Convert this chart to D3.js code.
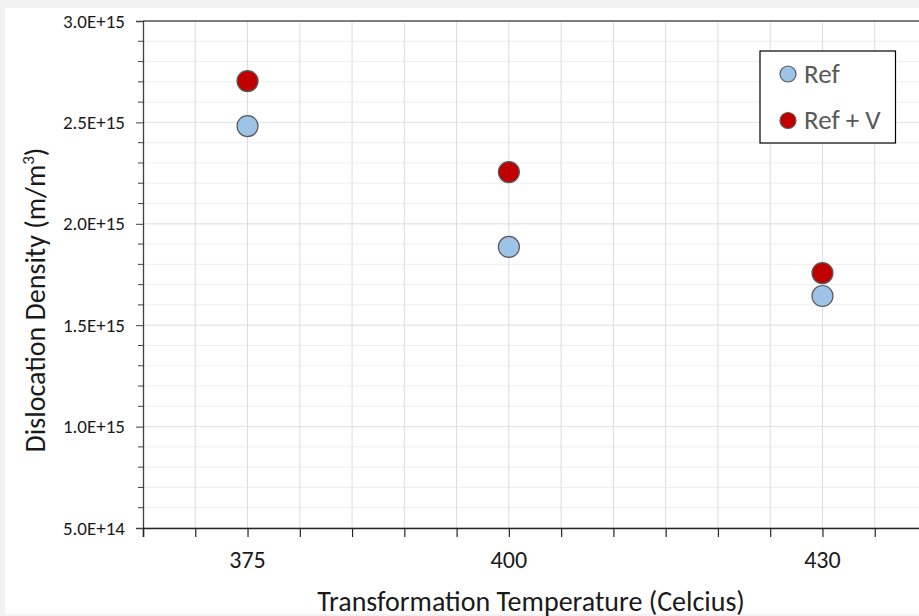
<!DOCTYPE html>
<html>
<head>
<meta charset="utf-8">
<script src="https://cdn.jsdelivr.net/npm/d3@7"></script>
<style>
  html, body { margin: 0; padding: 0; background: #f2f2f2; }
  svg { display: block; }
  text { font-family: Calibri, Carlito, Lato, "Open Sans", sans-serif; }
</style>
</head>
<body>
<svg id="chart" width="919" height="616"></svg>
<script>
// Transformation temperatures (Celcius)
const temperatures = [375, 400, 430];
// Dislocation density (m/m^3) for each series
const refValues = [2.482e15, 1.886e15, 1.644e15];
const refVValues = [2.704e15, 2.255e15, 1.757e15];
const seriesNames = ["Ref", "Ref + V"];
const seriesColors = ["#9dc3e6", "#c00000"];
// Axis ticks
const xTickValues = d3.range(365, 441, 5);
const xTickLabels = [375, 400, 430];
const yMajorTicks = [5e14, 1e15, 1.5e15, 2e15, 2.5e15, 3e15];
const yMinorTicks = d3.range(5, 31).map(d => d * 1e14);

const svg = d3.select("#chart");
svg.append("rect").attr("x", 5).attr("y", 8).attr("width", 914).attr("height", 606).attr("fill", "#ffffff");

const plotLeft = 143, plotRight = 927, plotTop = 21, plotBottom = 528;
const x = d3.scaleLinear().domain([365, 440]).range([plotLeft, plotRight]);
const y = d3.scaleLinear().domain([5e14, 3e15]).range([plotBottom, plotTop]);

const sciFormat = d => {
  const e = Math.floor(Math.log10(d));
  return (d / Math.pow(10, e)).toFixed(1) + "E+" + e;
};

// Minor horizontal gridlines
svg.append("g").selectAll("line").data(yMinorTicks).join("line")
  .attr("x1", plotLeft).attr("x2", plotRight)
  .attr("y1", d => y(d)).attr("y2", d => y(d))
  .attr("stroke", "#efefef").attr("stroke-width", 1);
// Major horizontal gridlines
svg.append("g").selectAll("line").data(yMajorTicks).join("line")
  .attr("x1", plotLeft).attr("x2", plotRight)
  .attr("y1", d => y(d)).attr("y2", d => y(d))
  .attr("stroke", "#e2e2e2").attr("stroke-width", 1);
// Vertical gridlines
svg.append("g").selectAll("line").data(xTickValues.slice(1)).join("line")
  .attr("x1", d => x(d)).attr("x2", d => x(d))
  .attr("y1", plotTop).attr("y2", plotBottom)
  .attr("stroke", "#dcdcdc").attr("stroke-width", 1);

// Top frame line
svg.append("line").attr("x1", plotLeft).attr("x2", plotRight).attr("y1", plotTop).attr("y2", plotTop)
  .attr("stroke", "#595959").attr("stroke-width", 1.5);

// Y axis: line and ticks from d3.axisLeft, labels drawn separately
const gy = svg.append("g").attr("transform", `translate(${plotLeft},0)`)
  .call(d3.axisLeft(y).tickValues(yMajorTicks).tickSize(7).tickFormat(""));
gy.selectAll("line").attr("stroke", "#404040");
gy.select(".domain").attr("stroke", "#404040").attr("stroke-width", 1.3);
svg.append("g").selectAll("line").data(yMinorTicks.filter(d => !yMajorTicks.includes(d))).join("line")
  .attr("x1", plotLeft - 5).attr("x2", plotLeft).attr("y1", d => y(d)).attr("y2", d => y(d))
  .attr("stroke", "#404040");
svg.append("g").selectAll("text").data(yMajorTicks).join("text")
  .attr("x", 125).attr("y", d => y(d) + 6.5).attr("text-anchor", "end")
  .style("font-size", "19px").attr("fill", "#1a1a1a")
  .text(sciFormat);

// X axis: line and ticks from d3.axisBottom, labels drawn separately
const gx = svg.append("g").attr("transform", `translate(0,${plotBottom})`)
  .call(d3.axisBottom(x).tickValues(xTickValues).tickSize(9).tickFormat(""));
gx.selectAll("line").attr("stroke", "#262626").attr("stroke-width", 1.2);
gx.select(".domain").attr("stroke", "#262626").attr("stroke-width", 1.5);
svg.append("g").selectAll("text").data(xTickLabels).join("text")
  .attr("x", d => x(d)).attr("y", 568).attr("text-anchor", "middle")
  .style("font-size", "24px").attr("fill", "#1a1a1a")
  .text(d => d);

// Axis titles
svg.append("text").attr("x", 531).attr("y", 611).attr("text-anchor", "middle")
  .style("font-size", "28px").attr("fill", "#1a1a1a")
  .text("Transformation Temperature (Celcius)");
const yt = svg.append("text").attr("transform", "translate(45,300) rotate(-90)")
  .attr("text-anchor", "middle").style("font-size", "28px").attr("fill", "#1a1a1a");
yt.append("tspan").text("Dislocation Density (m/m");
yt.append("tspan").style("font-size", "17px").attr("dy", -11).text("3");
yt.append("tspan").attr("dy", 11).text(")");

// Data points
const series = [refValues, refVValues];
series.forEach((vals, i) => {
  svg.append("g").selectAll("circle").data(temperatures.map((t, j) => [t, vals[j]])).join("circle")
    .attr("cx", d => x(d[0])).attr("cy", d => y(d[1])).attr("r", 10.5)
    .attr("fill", seriesColors[i]).attr("stroke", "#595959").attr("stroke-width", 1.2);
});

// Legend
const lg = svg.append("g");
lg.append("rect").attr("x", 760).attr("y", 51).attr("width", 135.5).attr("height", 92)
  .attr("fill", "#ffffff").attr("stroke", "#000000").attr("stroke-width", 1.2);
seriesNames.forEach((name, i) => {
  const cy = 74 + i * 46.5;
  lg.append("circle").attr("cx", 788).attr("cy", cy).attr("r", 8)
    .attr("fill", seriesColors[i]).attr("stroke", "#595959").attr("stroke-width", 1.2);
  lg.append("text").attr("x", 804).attr("y", cy + 8.5).style("font-size", "27px")
    .attr("fill", "#595959").text(name);
});
</script>
</body>
</html>
